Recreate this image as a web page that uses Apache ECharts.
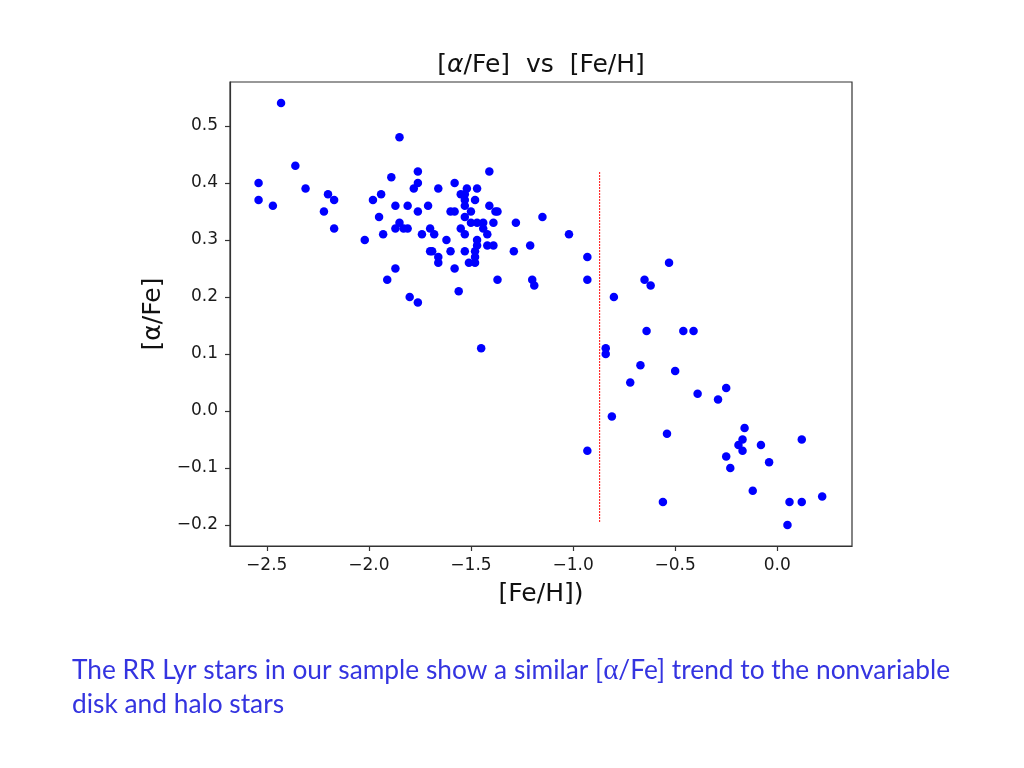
<!DOCTYPE html>
<html>
<head>
<meta charset="utf-8">
<script src="https://cdn.jsdelivr.net/npm/echarts@6/dist/echarts.min.js"></script>
<style>
html,body{margin:0;padding:0;background:#fff;}
#c{width:1024px;height:768px;}
</style>
</head>
<body>
<div id="c"></div>
<script>
// [Fe/H] values of the RR Lyr stars
const feH = [
 -2.43,-2.36,-2.54,-2.31,-2.54,-2.47,-2.20,-2.17,-2.22,-2.17,
 -2.02,-1.93,-1.95,-1.98,-1.94,-1.89,-1.85,-1.76,-1.76,-1.78,
 -1.87,-1.81,-1.76,-1.71,-1.85,-1.87,-1.83,-1.81,-1.74,-1.70,
 -1.68,-1.62,-1.70,-1.69,-1.66,-1.66,-1.87,-1.91,-1.80,-1.76,
 -1.66,-1.58,-1.60,-1.58,-1.55,-1.52,-1.47,-1.53,-1.53,-1.53,
 -1.48,-1.41,-1.41,-1.38,-1.37,-1.50,-1.53,-1.50,-1.47,-1.44,
 -1.39,-1.28,-1.44,-1.42,-1.55,-1.53,-1.47,-1.47,-1.48,-1.48,
 -1.48,-1.51,-1.42,-1.39,-1.29,-1.21,-1.60,-1.53,-1.58,-1.56,
 -1.37,-1.20,-1.19,-1.45,-1.15,-1.02,
 -0.93,-0.93,-0.53,-0.65,-0.62,-0.80,-0.64,-0.46,-0.41,-0.84,
 -0.84,-0.67,-0.50,-0.72,-0.39,-0.81,-0.54,-0.93,-0.25,-0.29,
 -0.16,-0.17,-0.19,-0.17,-0.08,0.12,-0.25,-0.04,-0.23,-0.12,
 -0.56,0.06,0.12,0.22,0.05
];
// [alpha/Fe] values, same order
const alphaFe = [
 0.54,0.43,0.40,0.39,0.37,0.36,0.38,0.37,0.35,0.32,
 0.30,0.31,0.34,0.37,0.38,0.41,0.48,0.42,0.40,0.39,
 0.36,0.36,0.35,0.36,0.33,0.32,0.32,0.32,0.31,0.32,
 0.31,0.30,0.28,0.28,0.27,0.26,0.25,0.23,0.20,0.19,
 0.39,0.40,0.35,0.35,0.38,0.39,0.39,0.38,0.37,0.36,
 0.37,0.42,0.36,0.35,0.35,0.35,0.34,0.33,0.33,0.33,
 0.33,0.33,0.32,0.31,0.32,0.31,0.30,0.29,0.28,0.27,
 0.26,0.26,0.29,0.29,0.28,0.29,0.28,0.28,0.25,0.21,
 0.23,0.23,0.22,0.11,0.34,0.31,
 0.27,0.23,0.26,0.23,0.22,0.20,0.14,0.14,0.14,0.11,
 0.10,0.08,0.07,0.05,0.03,-0.01,-0.04,-0.07,0.04,0.02,
 -0.03,-0.05,-0.06,-0.07,-0.06,-0.05,-0.08,-0.09,-0.10,-0.14,
 -0.16,-0.16,-0.16,-0.15,-0.20
];
// tick labels
const xTicks = [-2.5,-2.0,-1.5,-1.0,-0.5,0.0];
const yTicks = [-0.2,-0.1,0.0,0.1,0.2,0.3,0.4,0.5];
// vertical dotted divider
const cutX = [-0.87,-0.87];
const cutY = [-0.195,0.42];

const pts = feH.map((x,i)=>[x,alphaFe[i]]);
const cutLine = cutX.map((x,i)=>[x,cutY[i]]);
const fmt = v => (v < -1e-9 ? '\u2212' : '') + Math.abs(v).toFixed(1);
const tickFont = {fontFamily:'DejaVu Sans', fontSize:17, color:'#1a1a1a'};

const chart = echarts.init(document.getElementById('c'), null, {renderer:'canvas'});
chart.setOption({
  animation:false,
  backgroundColor:'#fff',
  grid:{left:230, top:82, right:172, bottom:222, show:true, borderColor:'#333', borderWidth:1.2, backgroundColor:'transparent'},
  xAxis:{
    type:'value', min:-2.68, max:0.366,
    name:'[Fe/H])', nameLocation:'middle', nameGap:36,
    nameTextStyle:{fontFamily:'DejaVu Sans', fontSize:25, color:'#111'},
    axisLine:{show:true, onZero:false, lineStyle:{color:'#333', width:1.2}},
    axisTick:{show:true, length:5, lineStyle:{color:'#333', width:1.2}, customValues:xTicks},
    axisLabel:Object.assign({margin:11, formatter:fmt, customValues:xTicks}, tickFont),
    splitLine:{show:false}
  },
  yAxis:{
    type:'value', min:-0.237, max:0.577,
    name:'[\u03b1/Fe]', nameLocation:'middle', nameGap:64, nameRotate:90,
    nameTextStyle:{fontFamily:'DejaVu Sans', fontSize:25, color:'#111'},
    axisLine:{show:true, onZero:false, lineStyle:{color:'#333', width:1.2}},
    axisTick:{show:true, length:5, lineStyle:{color:'#333', width:1.2}, customValues:yTicks},
    axisLabel:Object.assign({margin:12, formatter:fmt, customValues:yTicks}, tickFont),
    splitLine:{show:false}
  },
  graphic:[
    {type:'text', x:541, y:65, style:{
      text:'[{i|\u03b1}/Fe]  vs  [Fe/H]',
      rich:{i:{fontFamily:'DejaVu Sans', fontStyle:'italic', fontSize:25, fill:'#111'}},
      fontFamily:'DejaVu Sans', fontSize:25, fill:'#111', align:'center', verticalAlign:'middle'}},
    {type:'text', x:72, y:671, style:{
      text:'The RR Lyr stars in our sample show a similar [{g|\u03b1}/Fe] trend to the nonvariable',
      rich:{g:{fontFamily:'Liberation Serif', fontSize:29, fill:'#3434e0'}},
      fontFamily:'Lato', fontSize:26.3, fill:'#3434e0', align:'left', verticalAlign:'middle'}},
    {type:'text', x:72, y:705, style:{
      text:'disk and halo stars',
      fontFamily:'Lato', fontSize:26.3, fill:'#3434e0', align:'left', verticalAlign:'middle'}}
  ],
  series:[
    {type:'scatter', data:pts, symbolSize:8.5, itemStyle:{color:'#0000ff', opacity:1}, z:3},
    {type:'line', data:cutLine, symbol:'none', lineStyle:{color:'#ff2020', width:1.1, type:[2,1]}, z:2}
  ]
});
</script>
</body>
</html>
